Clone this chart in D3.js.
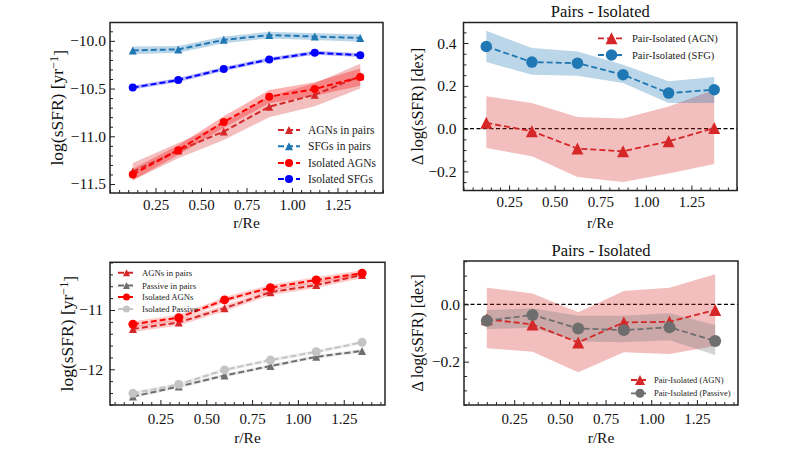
<!DOCTYPE html>
<html><head><meta charset="utf-8">
<script src="https://cdn.jsdelivr.net/npm/d3@7"></script>
<style>body{margin:0;background:#fff} svg, svg text{font-family:"Liberation Serif","Times New Roman",Times,"DejaVu Serif","Noto Serif",serif !important}</style>
</head><body><svg id="c" width="800" height="450"></svg>
<script>
// ---------- DATA ----------
const rTop = [0.125, 0.375, 0.625, 0.875, 1.125, 1.375];
const rBottom = [0.1, 0.35, 0.6, 0.85, 1.1, 1.35];
const xTicks = [0.25, 0.5, 0.75, 1.0, 1.25];

// Panel A: log(sSFR) profiles, AGNs vs SFGs
const agnPairsA = [-11.37, -11.15, -10.95, -10.69, -10.565, -10.37];
const agnPairsAErr = [0.09, 0.08, 0.09, 0.11, 0.12, 0.13];
const sfgPairsA = [-10.10, -10.09, -9.99, -9.94, -9.955, -9.97];
const sfgPairsAErr = [0.04, 0.035, 0.035, 0.035, 0.035, 0.04];
const agnIsoA = [-11.40, -11.145, -10.85, -10.585, -10.505, -10.38];
const agnIsoAErr = [0.06, 0.05, 0.06, 0.07, 0.07, 0.09];
const sfgIsoA = [-10.49, -10.41, -10.295, -10.195, -10.125, -10.15];
const sfgIsoAErr = [0.02, 0.02, 0.02, 0.02, 0.02, 0.02];
const yTicksA = [-11.5, -11.0, -10.5, -10.0];

// Panel B: differences AGN / SFG
const diffAgnB = [0.027, -0.012, -0.093, -0.106, -0.059, 0.003];
const diffAgnBLo = [-0.09, -0.129, -0.226, -0.249, -0.21, -0.165];
const diffAgnBHi = [0.151, 0.12, 0.055, 0.047, 0.104, 0.182];
const diffSfgB = [0.384, 0.311, 0.306, 0.252, 0.166, 0.182];
const diffSfgBLo = [0.311, 0.252, 0.247, 0.213, 0.12, 0.12];
const diffSfgBHi = [0.457, 0.377, 0.361, 0.299, 0.221, 0.241];
const yTicksB = [-0.2, 0.0, 0.2, 0.4];

// Panel C: log(sSFR) profiles, AGNs vs Passive
const agnPairsC = [-11.32, -11.21, -10.97, -10.70, -10.58, -10.41];
const passPairsC = [-12.46, -12.29, -12.105, -11.945, -11.79, -11.69];
const agnIsoC = [-11.24, -11.13, -10.83, -10.625, -10.495, -10.38];
const passIsoC = [-12.405, -12.255, -12.01, -11.845, -11.705, -11.545];
const agnCErr = [0.05, 0.05, 0.05, 0.05, 0.05, 0.05];
const passCErr = [0.03, 0.03, 0.03, 0.03, 0.03, 0.03];
const yTicksC = [-12, -11];

// Panel D: differences AGN / Passive
const diffAgnD = [-0.052, -0.070, -0.133, -0.063, -0.061, -0.020];
const diffAgnDLo = [-0.153, -0.165, -0.237, -0.167, -0.173, -0.145];
const diffAgnDHi = [0.058, 0.038, -0.028, 0.046, 0.058, 0.105];
const diffPassD = [-0.057, -0.037, -0.084, -0.090, -0.080, -0.128];
const diffPassDLo = [-0.086, -0.082, -0.130, -0.132, -0.125, -0.177];
const diffPassDHi = [-0.020, -0.014, -0.040, -0.040, -0.031, -0.072];
const yTicksD = [-0.2, 0.0];

// ---------- DRAWING ----------
const FONT = '"Liberation Serif","Times New Roman",Times,"DejaVu Serif","Noto Serif",serif';
const svg = d3.select('#c').attr('font-family', FONT);
const tri = s => { const h = s / 2; return `M0,${-h}L${h},${h}L${-h},${h}Z`; };
function marker(g, type, cx, cy, size, color) {
  if (type === 'circle') g.append('circle').attr('cx', cx).attr('cy', cy).attr('r', size / 2).attr('fill', color);
  else g.append('path').attr('d', tri(size)).attr('transform', `translate(${cx},${cy})`).attr('fill', color);
}
function range(a, b, s) { const out = []; for (let v = a; v <= b + 1e-9; v += s) out.push(+v.toFixed(4)); return out; }

function panel(p) {
  const g = svg.append('g');
  const x = d3.scaleLinear().domain(p.xDomain).range([p.left, p.right]);
  const y = d3.scaleLinear().domain(p.yDomain).range([p.bottom, p.top]);
  const clipId = 'clip' + Math.random().toString(36).slice(2);
  g.append('clipPath').attr('id', clipId).append('rect')
    .attr('x', p.left).attr('y', p.top).attr('width', p.right - p.left).attr('height', p.bottom - p.top);
  const plot = g.append('g').attr('clip-path', `url(#${clipId})`);

  if (p.zeroLine) plot.append('line').attr('x1', p.left).attr('x2', p.right)
    .attr('y1', y(0)).attr('y2', y(0)).attr('stroke', '#000').attr('stroke-width', 1.3).attr('stroke-dasharray', '4,2.5');

  p.series.forEach(s => {
    const area = d3.area().x((d, i) => x(s.x[i])).y0((d, i) => y(s.lo[i])).y1((d, i) => y(s.hi[i]));
    plot.append('path').attr('d', area(s.y)).attr('fill', s.band).attr('fill-opacity', s.bandOpacity);
  });
  p.series.forEach(s => {
    const line = d3.line().x((d, i) => x(s.x[i])).y(d => y(d));
    plot.append('path').attr('d', line(s.y)).attr('fill', 'none').attr('stroke', s.color)
      .attr('stroke-width', s.lw).attr('stroke-dasharray', s.dash);
    s.y.forEach((v, i) => marker(plot, s.marker, x(s.x[i]), y(v), s.msize, s.color));
  });

  // axes (inward ticks)
  const minorX = range(0, 1.5, 0.05).filter(v => v >= p.xDomain[0] && v <= p.xDomain[1] && !xTicks.some(t => Math.abs(t - v) < 1e-6));
  g.append('g').attr('class', 'xmaj').attr('transform', `translate(0,${p.bottom})`)
    .call(d3.axisBottom(x).tickValues(xTicks).tickFormat(d3.format('.2f')).tickSize(-5).tickPadding(p.xPad));
  g.append('g').attr('transform', `translate(0,${p.bottom})`)
    .call(d3.axisBottom(x).tickValues(minorX).tickFormat('').tickSize(-3));
  const minorY = range(p.yMinorStart, p.yDomain[1], p.yMinor).filter(v => v >= p.yDomain[0] && !p.yTicks.some(t => Math.abs(t - v) < 1e-6));
  g.append('g').attr('class', 'ymaj').attr('transform', `translate(${p.left},0)`)
    .call(d3.axisLeft(y).tickValues(p.yTicks).tickFormat(d3.format(p.yFormat)).tickSize(-5).tickPadding(p.yPad));
  g.append('g').attr('transform', `translate(${p.left},0)`)
    .call(d3.axisLeft(y).tickValues(minorY).tickFormat('').tickSize(-3));
  g.selectAll('.domain').remove();
  g.selectAll('g').filter(function () { return this.hasAttribute('font-family'); }).attr('font-family', FONT);
  g.selectAll('.tick line').attr('stroke', '#222').attr('stroke-width', 1);
  g.selectAll('.ymaj .tick text').attr('font-size', 15.5).attr('fill', '#111');
  g.selectAll('.xmaj .tick text').attr('font-size', 15).attr('fill', '#111');
  g.append('rect').attr('x', p.left).attr('y', p.top).attr('width', p.right - p.left).attr('height', p.bottom - p.top)
    .attr('fill', 'none').attr('stroke', '#222').attr('stroke-width', 1.5);

  // labels
  g.append('text').attr('x', (p.left + p.right) / 2).attr('y', p.xLabelY).attr('text-anchor', 'middle')
    .attr('font-size', 15.5).attr('fill', '#111').text('r/Re');
  const yl = g.append('text').attr('transform', `translate(${p.yLabelX},${(p.top + p.bottom) / 2}) rotate(-90)`)
    .attr('text-anchor', 'middle').attr('dy', '0.35em').attr('font-size', p.yLabelSize).attr('fill', '#111');
  if (p.yLabelSup) {
    yl.append('tspan').text(p.yLabel);
    yl.append('tspan').attr('dy', '-0.45em').attr('font-size', p.yLabelSize * 0.7).text('\u22121');
    yl.append('tspan').attr('dy', '0.45em').text(']');
  } else yl.text(p.yLabel);
  if (p.title) g.append('text').attr('x', (p.left + p.right) / 2).attr('y', p.titleY).attr('text-anchor', 'middle')
    .attr('font-size', 16.5).attr('fill', '#111').text(p.title);

  // legend
  const L = p.legend;
  p.series.forEach((s, i) => {
    const ly = L.ys[i];
    g.append('line').attr('x1', L.x0).attr('x2', L.x1).attr('y1', ly).attr('y2', ly)
      .attr('stroke', s.color).attr('stroke-width', s.lw).attr('stroke-dasharray', s.legendDash || s.dash);
    marker(g, s.marker, (L.x0 + L.x1) / 2, ly, L.msize[i], s.color);
    g.append('text').attr('x', L.tx).attr('y', ly).attr('dy', '0.35em').attr('font-size', L.fontSize)
      .attr('fill', '#222').text(s.label);
  });
}

const pm = (v, e, sgn) => v.map((d, i) => d + sgn * e[i]);

panel({
  left: 110, right: 383, top: 22.5, bottom: 193,
  xDomain: [0, 1.5], yDomain: [-11.594, -9.808], yTicks: yTicksA, yFormat: '.1f', yMinor: 0.1, yMinorStart: -11.5,
  xPad: 6, yPad: 4, xLabelY: 228, yLabelX: 57, yLabel: 'log(sSFR) [yr', yLabelSup: true, yLabelSize: 17.5,
  series: [
    { label: 'AGNs in pairs', x: rTop, y: agnPairsA, lo: pm(agnPairsA, agnPairsAErr, -1), hi: pm(agnPairsA, agnPairsAErr, 1),
      color: '#d62728', band: '#d62728', bandOpacity: 0.3, marker: 'tri', msize: 8, lw: 2, dash: '6,3' },
    { label: 'SFGs in pairs', x: rTop, y: sfgPairsA, lo: pm(sfgPairsA, sfgPairsAErr, -1), hi: pm(sfgPairsA, sfgPairsAErr, 1),
      color: '#1f77b4', band: '#1f77b4', bandOpacity: 0.3, marker: 'tri', msize: 8, lw: 2, dash: '6,3' },
    { label: 'Isolated AGNs', x: rTop, y: agnIsoA, lo: pm(agnIsoA, agnIsoAErr, -1), hi: pm(agnIsoA, agnIsoAErr, 1),
      color: '#ff0000', band: '#ff0000', bandOpacity: 0.3, marker: 'circle', msize: 8, lw: 2, dash: '6,3' },
    { label: 'Isolated SFGs', x: rTop, y: sfgIsoA, lo: pm(sfgIsoA, sfgIsoAErr, -1), hi: pm(sfgIsoA, sfgIsoAErr, 1),
      color: '#0000ff', band: '#0000ff', bandOpacity: 0.3, marker: 'circle', msize: 8, lw: 2, dash: '6,3' }
  ],
  legend: { x0: 278, x1: 300, tx: 308, ys: [130, 146.3, 163, 179], fontSize: 11.5, msize: [8, 8, 8, 8] }
});

panel({
  left: 463.5, right: 737, top: 22.5, bottom: 190.5,
  xDomain: [0, 1.5], yDomain: [-0.289, 0.496], yTicks: yTicksB, yFormat: '.1f', yMinor: 0.05, yMinorStart: -0.25,
  xPad: 6, yPad: 7, xLabelY: 228, yLabelX: 417, yLabel: 'Δ log(sSFR) [dex]', yLabelSize: 16,
  title: 'Pairs - Isolated', titleY: 17, zeroLine: true,
  series: [
    { label: 'Pair-Isolated (AGN)', x: rTop, y: diffAgnB, lo: diffAgnBLo, hi: diffAgnBHi,
      color: '#d62728', band: '#d62728', bandOpacity: 0.3, marker: 'tri', msize: 12, lw: 1.8, dash: '6,3' },
    { label: 'Pair-Isolated (SFG)', x: rTop, y: diffSfgB, lo: diffSfgBLo, hi: diffSfgBHi,
      color: '#1f77b4', band: '#1f77b4', bandOpacity: 0.3, marker: 'circle', msize: 11.5, lw: 1.8, dash: '6,3' }
  ],
  legend: { x0: 598, x1: 625, tx: 632, ys: [38.3, 55], fontSize: 10.5, msize: [12, 11.5] }
});

panel({
  left: 110, right: 385, top: 262.3, bottom: 405,
  xDomain: [-0.025, 1.475], yDomain: [-12.602, -10.196], yTicks: yTicksC, yFormat: 'd', yMinor: 0.2, yMinorStart: -12.6,
  xPad: 8, yPad: 7, xLabelY: 443, yLabelX: 67, yLabel: 'log(sSFR) [yr', yLabelSup: true, yLabelSize: 17.5,
  series: [
    { label: 'AGNs in pairs', x: rBottom, y: agnPairsC, lo: pm(agnPairsC, agnCErr, -1), hi: pm(agnPairsC, agnCErr, 1),
      color: '#d62728', band: '#ff0000', bandOpacity: 0.2, marker: 'tri', msize: 8, lw: 2, dash: '6,3' },
    { label: 'Passive in pairs', x: rBottom, y: passPairsC, lo: pm(passPairsC, passCErr, -1), hi: pm(passPairsC, passCErr, 1),
      color: '#6e6e6e', band: '#909090', bandOpacity: 0.2, marker: 'tri', msize: 8, lw: 2, dash: '6,3' },
    { label: 'Isolated AGNs', x: rBottom, y: agnIsoC, lo: pm(agnIsoC, agnCErr, -1), hi: pm(agnIsoC, agnCErr, 1),
      color: '#ff0000', band: '#ff0000', bandOpacity: 0.2, marker: 'circle', msize: 9, lw: 2, dash: '6,3' },
    { label: 'Isolated Passive', x: rBottom, y: passIsoC, lo: pm(passIsoC, passCErr, -1), hi: pm(passIsoC, passCErr, 1),
      color: '#c4c4c4', band: '#c0c0c0', bandOpacity: 0.25, marker: 'circle', msize: 9, lw: 2, dash: '6,3' }
  ],
  legend: { x0: 118, x1: 135, tx: 142, ys: [272.7, 285.5, 297, 309], fontSize: 8.7, msize: [7, 7, 7, 7] }
});

panel({
  left: 464, right: 738, top: 261, bottom: 405,
  xDomain: [-0.025, 1.475], yDomain: [-0.351, 0.151], yTicks: yTicksD, yFormat: '.1f', yMinor: 0.05, yMinorStart: -0.35,
  xPad: 8, yPad: 4, xLabelY: 443, yLabelX: 417, yLabel: 'Δ log(sSFR) [dex]', yLabelSize: 16,
  title: 'Pairs - Isolated', titleY: 255.5, zeroLine: true,
  series: [
    { label: 'Pair-Isolated (AGN)', x: rBottom, y: diffAgnD, lo: diffAgnDLo, hi: diffAgnDHi,
      color: '#d62728', band: '#d62728', bandOpacity: 0.3, marker: 'tri', msize: 12, lw: 1.8, dash: '6,3' },
    { label: 'Pair-Isolated (Passive)', x: rBottom, y: diffPassD, lo: diffPassDLo, hi: diffPassDHi,
      color: '#6e6e6e', band: '#808080', bandOpacity: 0.35, marker: 'circle', msize: 12, lw: 1.8, dash: '6,3' }
  ],
  legend: { x0: 631, x1: 649, tx: 654, ys: [380, 393.3], fontSize: 8.5, msize: [10, 9] }
});
</script></body></html>
